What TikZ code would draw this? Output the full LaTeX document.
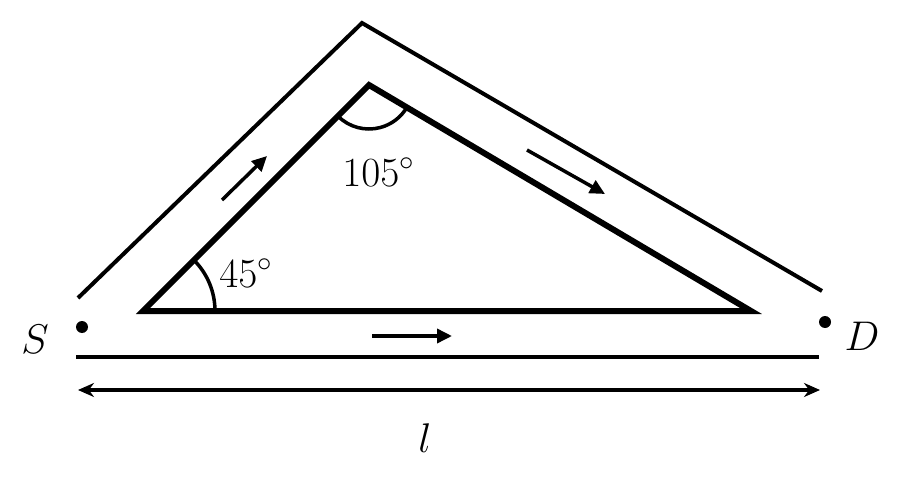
\documentclass[tikz,border=0pt]{standalone}
\usetikzlibrary{arrows.meta}
\begin{document}
\begin{tikzpicture}[x=1pt,y=-1pt,
  innertri/.style={line width=6pt, line join=miter},
  outerpath/.style={line width=4pt},
  flow/.style={line width=3.5pt,-{Triangle[length=15pt,width=14pt]}},
  anglearc/.style={line width=3.5pt},
  lbl/.style={font=\huge, scale=2, inner sep=0pt},
  dotpt/.style={circle, fill=black, inner sep=0pt, minimum size=12pt}]
\useasboundingbox (0,0) rectangle (900,484);
% inner triangle
\coordinate (A) at (143,311);
\coordinate (B) at (369,85);
\coordinate (C) at (751,311);
\draw[innertri] (A) -- (B) -- (C) -- cycle;
% outer path
\coordinate (P1) at (78,298);
\coordinate (P2) at (362,23);
\coordinate (P3) at (822,291);
\draw[outerpath] (P1) -- (P2) -- (P3);
% bottom straight line
\coordinate (Q1) at (76,357);
\coordinate (Q2) at (819,357);
\draw[outerpath] (Q1) -- (Q2);
% length arrow
\coordinate (L1) at (78,390);
\coordinate (L2) at (820,390);
\draw[line width=3.5pt,{Stealth[length=16pt,width=14pt]}-{Stealth[length=16pt,width=14pt]}] (L1) -- (L2);
\node[lbl] (l) at (425,438) {$l$};
% endpoints
\node[dotpt] (Sd) at (82,327) {};
\node[dotpt] (Dd) at (825,322) {};
\node[lbl] (S) at (35,339) {$S$};
\node[lbl] (D) at (862,336) {$D$};
% flow arrows
\coordinate (F1a) at (222,200);
\coordinate (F1b) at (267,156);
\draw[flow] (F1a) -- (F1b);
\coordinate (F2a) at (527,150);
\coordinate (F2b) at (605,194);
\draw[flow] (F2a) -- (F2b);
\coordinate (F3a) at (372,336);
\coordinate (F3b) at (452,336);
\draw[flow] (F3a) -- (F3b);
% angle arcs
\draw[anglearc] ([shift={(0:72)}]A) arc[start angle=0, end angle=-45, radius=72];
\draw[anglearc] ([shift={(135:44)}]B) arc[start angle=135, end angle=30.6, radius=44];
% angle labels
\node[lbl, anchor=base west] (a45) at (219,287) {$45^{\circ}$};
\node[lbl, anchor=base west] (a105) at (342,186) {$105^{\circ}$};
\end{tikzpicture}
\end{document}
